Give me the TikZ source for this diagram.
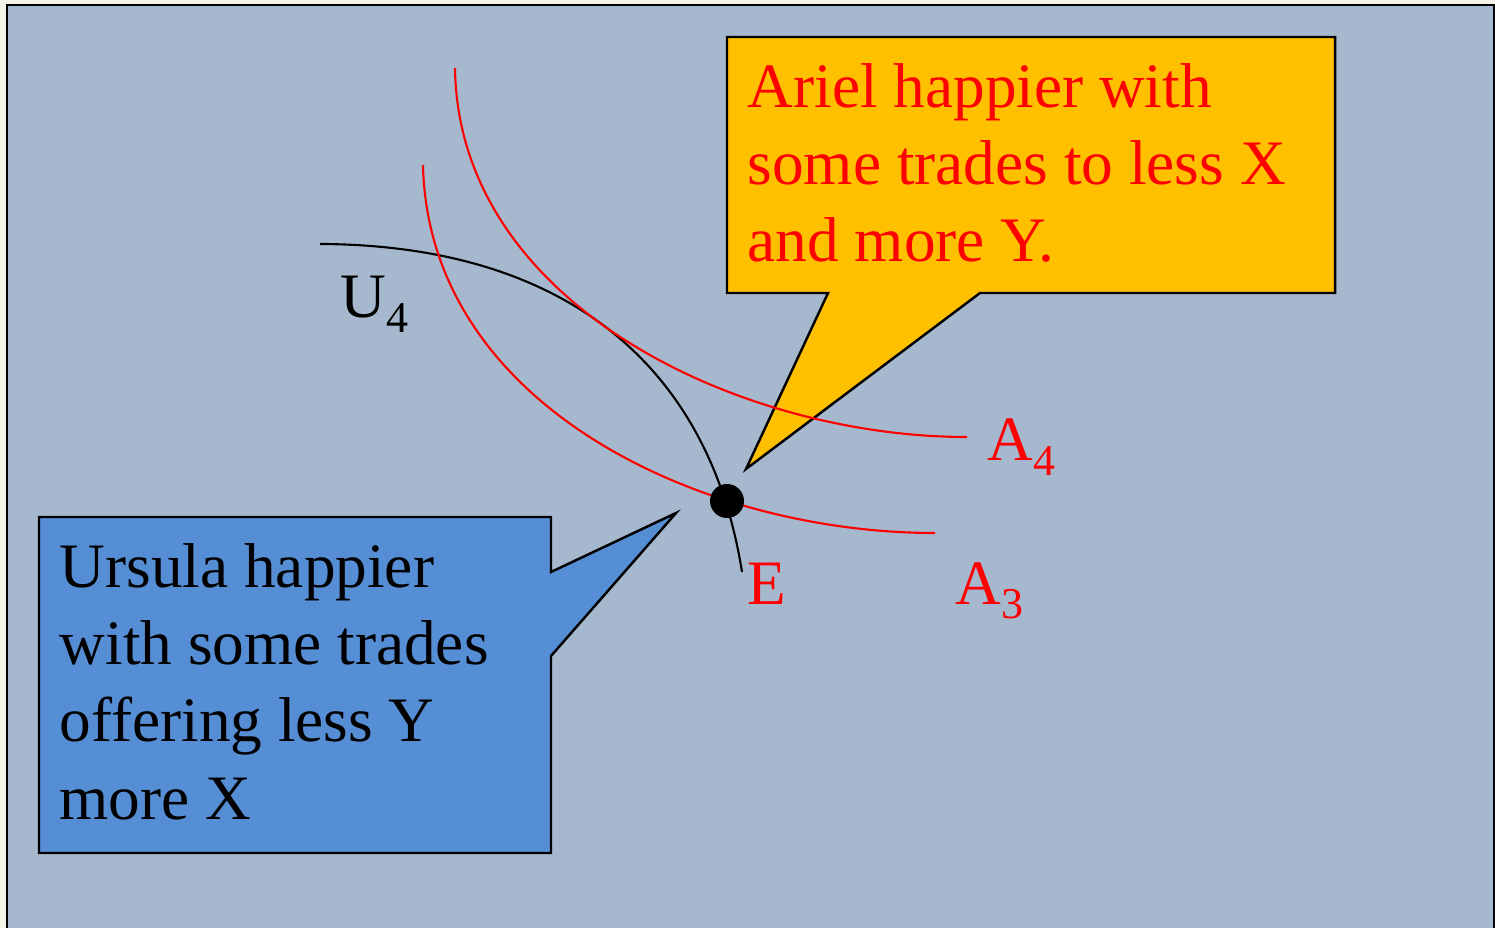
\documentclass[tikz,border=0pt]{standalone}
\usepackage{fontspec}
\setmainfont{Liberation Serif}
\usepackage{xcolor}
\usetikzlibrary{positioning}
\definecolor{slidebg}{HTML}{A6B8CD}
\definecolor{pagebg}{HTML}{F3F3E9}
\definecolor{arielorange}{HTML}{FFC000}
\definecolor{ursulablue}{HTML}{558ED5}
\newcommand{\lowsub}[1]{\raisebox{-4pt}{\fontsize{12.5}{15}\selectfont #1}}

\begin{document}
\begin{tikzpicture}[x=0.01cm,y=-0.01cm,font=\fontsize{18}{21.9}\selectfont,
  curve/.style={line width=0.6pt},
  callout/.style={draw=black,line width=0.7pt,line join=miter},
  saytext/.style={anchor=base west,align=left,inner sep=0pt}]
  \useasboundingbox (0,0) rectangle (1495,928);
  % page and slide
  \fill[pagebg] (0,0) rectangle (1495,928);
  \fill[slidebg] (7,5) rectangle (1494,940);
  \draw[line width=0.8pt] (7,940) -- (7,5) -- (1494,5) -- (1494,940);
  % callouts
  \filldraw[callout,fill=arielorange] (727,37) -- (1335,37) -- (1335,293) -- (980,293)
    -- (746,469) -- (828,293) -- (727,293) -- cycle;
  \filldraw[callout,fill=ursulablue] (39,517) -- (551,517) -- (551,572) -- (676,513)
    -- (551,656) -- (551,853) -- (39,853) -- cycle;
  % base anchor sits on the last line
  \node[saytext,text=red] (ariel) at (747,262)
    {Ariel happier with\\some trades to less X\\and more Y.};
  \node[saytext] (ursula) at (59,819)
    {Ursula happier\\with some trades\\offering less Y\\more X};
  % indifference curves
  \draw[curve] (320,244) .. controls (570,245) and (710,370) .. (742,572);
  \draw[curve,red] (455,68) .. controls (458,305) and (740,437) .. (967,437);
  \draw[curve,red] (423,165) .. controls (428,405) and (700,533) .. (935,533);
  % endowment
  \fill (727,501) circle (17);
  \node[saytext] (labU) at (340,318) {U\lowsub{4}};
  \node[saytext,text=red] (labAfour) at (987,461) {A\lowsub{4}};
  \node[saytext,text=red] (labAthree) at (955,604) {A\lowsub{3}};
  \node[saytext,text=red] (labE) at (747,604) {E};
\end{tikzpicture}
\end{document}
